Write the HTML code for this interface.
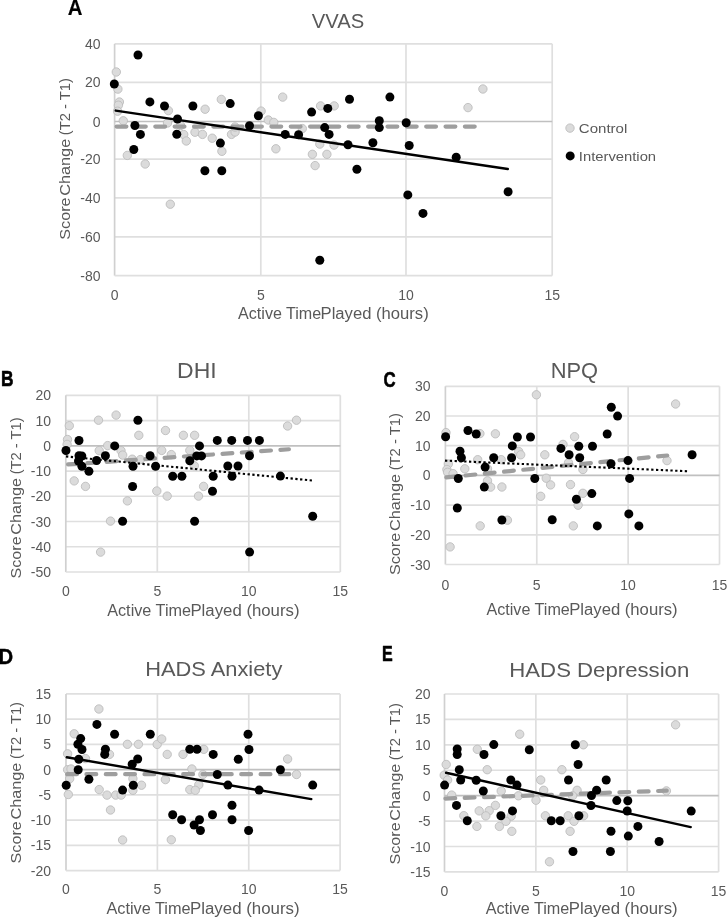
<!DOCTYPE html>
<html><head><meta charset="utf-8"><style>
html,body{margin:0;padding:0;background:#fff;}
svg{display:block;font-family:"Liberation Sans", sans-serif;filter:grayscale(1);}
</style></head><body>
<svg width="728" height="918" viewBox="0 0 728 918">
<rect width="728" height="918" fill="#fff"/>
<g id="pA">
<line x1="114.60" y1="43.90" x2="552.20" y2="43.90" stroke="#dfdfdf" stroke-width="1.7"/>
<line x1="114.60" y1="82.40" x2="552.20" y2="82.40" stroke="#dfdfdf" stroke-width="1.7"/>
<line x1="114.60" y1="159.20" x2="552.20" y2="159.20" stroke="#dfdfdf" stroke-width="1.7"/>
<line x1="114.60" y1="197.80" x2="552.20" y2="197.80" stroke="#dfdfdf" stroke-width="1.7"/>
<line x1="114.60" y1="236.90" x2="552.20" y2="236.90" stroke="#dfdfdf" stroke-width="1.7"/>
<line x1="260.80" y1="43.90" x2="260.80" y2="275.60" stroke="#dfdfdf" stroke-width="1.7"/>
<line x1="406.00" y1="43.90" x2="406.00" y2="275.60" stroke="#dfdfdf" stroke-width="1.7"/>
<line x1="552.20" y1="43.90" x2="552.20" y2="275.60" stroke="#dfdfdf" stroke-width="1.7"/>
<line x1="114.60" y1="43.90" x2="114.60" y2="275.60" stroke="#d0d0d0" stroke-width="1.7"/>
<line x1="114.60" y1="275.60" x2="552.20" y2="275.60" stroke="#dfdfdf" stroke-width="1.7"/>
<line x1="114.60" y1="121.50" x2="552.20" y2="121.50" stroke="#c0c0c0" stroke-width="1.7"/>
<text x="100.5" y="48.91" text-anchor="end" font-size="14" fill="#595959">40</text>
<text x="100.5" y="87.41" text-anchor="end" font-size="14" fill="#595959">20</text>
<text x="100.5" y="126.51" text-anchor="end" font-size="14" fill="#595959">0</text>
<text x="100.5" y="164.21" text-anchor="end" font-size="14" fill="#595959">-20</text>
<text x="100.5" y="202.81" text-anchor="end" font-size="14" fill="#595959">-40</text>
<text x="100.5" y="241.91" text-anchor="end" font-size="14" fill="#595959">-60</text>
<text x="100.5" y="280.61" text-anchor="end" font-size="14" fill="#595959">-80</text>
<text x="114.60" y="300.01" text-anchor="middle" font-size="14" fill="#595959">0</text>
<text x="260.80" y="300.01" text-anchor="middle" font-size="14" fill="#595959">5</text>
<text x="406.00" y="300.01" text-anchor="middle" font-size="14" fill="#595959">10</text>
<text x="552.20" y="300.01" text-anchor="middle" font-size="14" fill="#595959">15</text>
<text x="338" y="27.7" text-anchor="middle" font-size="20" fill="#595959" textLength="52.5" lengthAdjust="spacingAndGlyphs">VVAS</text>
<text x="67.77" y="15.1" font-size="21.74" font-weight="bold" fill="#000" stroke="#000" stroke-width="0.2" stroke-linejoin="round" textLength="14.71" lengthAdjust="spacingAndGlyphs">A</text>
<text x="238.10" y="319" font-size="16" fill="#595959" textLength="83.09" lengthAdjust="spacingAndGlyphs">Active Time</text>
<text x="320.60" y="319" font-size="16" fill="#595959" textLength="108.09" lengthAdjust="spacingAndGlyphs">Played (hours)</text>
<text transform="translate(69.90,239.74) rotate(-90)" x="0" y="0" font-size="15.3" fill="#595959" textLength="42.30" lengthAdjust="spacingAndGlyphs">Score</text>
<text transform="translate(69.90,195.79) rotate(-90)" x="0" y="0" font-size="15.3" fill="#595959" textLength="57.02" lengthAdjust="spacingAndGlyphs">Change</text>
<text transform="translate(69.90,135.16) rotate(-90)" x="0" y="0" font-size="15.3" fill="#595959" textLength="57.09" lengthAdjust="spacingAndGlyphs">(T2 - T1)</text>
<circle cx="116.3" cy="72.0" r="4.2" fill="#dbdbdb" stroke="#bababa" stroke-width="0.85"/>
<circle cx="117.9" cy="89.1" r="4.2" fill="#dbdbdb" stroke="#bababa" stroke-width="0.85"/>
<circle cx="119.4" cy="102.0" r="4.2" fill="#dbdbdb" stroke="#bababa" stroke-width="0.85"/>
<circle cx="118.4" cy="105.2" r="4.2" fill="#dbdbdb" stroke="#bababa" stroke-width="0.85"/>
<circle cx="117.6" cy="111.2" r="4.2" fill="#dbdbdb" stroke="#bababa" stroke-width="0.85"/>
<circle cx="123.3" cy="120.8" r="4.2" fill="#dbdbdb" stroke="#bababa" stroke-width="0.85"/>
<circle cx="168.4" cy="110.6" r="4.2" fill="#dbdbdb" stroke="#bababa" stroke-width="0.85"/>
<circle cx="167.5" cy="123.0" r="4.2" fill="#dbdbdb" stroke="#bababa" stroke-width="0.85"/>
<circle cx="180.5" cy="125.5" r="4.2" fill="#dbdbdb" stroke="#bababa" stroke-width="0.85"/>
<circle cx="205.1" cy="109.2" r="4.2" fill="#dbdbdb" stroke="#bababa" stroke-width="0.85"/>
<circle cx="221.3" cy="99.4" r="4.2" fill="#dbdbdb" stroke="#bababa" stroke-width="0.85"/>
<circle cx="183.7" cy="134.5" r="4.2" fill="#dbdbdb" stroke="#bababa" stroke-width="0.85"/>
<circle cx="186.3" cy="141.0" r="4.2" fill="#dbdbdb" stroke="#bababa" stroke-width="0.85"/>
<circle cx="195.0" cy="132.2" r="4.2" fill="#dbdbdb" stroke="#bababa" stroke-width="0.85"/>
<circle cx="202.5" cy="134.4" r="4.2" fill="#dbdbdb" stroke="#bababa" stroke-width="0.85"/>
<circle cx="212.2" cy="138.2" r="4.2" fill="#dbdbdb" stroke="#bababa" stroke-width="0.85"/>
<circle cx="221.9" cy="151.3" r="4.2" fill="#dbdbdb" stroke="#bababa" stroke-width="0.85"/>
<circle cx="231.5" cy="134.4" r="4.2" fill="#dbdbdb" stroke="#bababa" stroke-width="0.85"/>
<circle cx="235.1" cy="132.0" r="4.2" fill="#dbdbdb" stroke="#bababa" stroke-width="0.85"/>
<circle cx="127.3" cy="155.4" r="4.2" fill="#dbdbdb" stroke="#bababa" stroke-width="0.85"/>
<circle cx="145.2" cy="164.0" r="4.2" fill="#dbdbdb" stroke="#bababa" stroke-width="0.85"/>
<circle cx="170.3" cy="204.2" r="4.2" fill="#dbdbdb" stroke="#bababa" stroke-width="0.85"/>
<circle cx="261.1" cy="111.1" r="4.2" fill="#dbdbdb" stroke="#bababa" stroke-width="0.85"/>
<circle cx="268.3" cy="120.0" r="4.2" fill="#dbdbdb" stroke="#bababa" stroke-width="0.85"/>
<circle cx="273.8" cy="122.4" r="4.2" fill="#dbdbdb" stroke="#bababa" stroke-width="0.85"/>
<circle cx="282.7" cy="97.1" r="4.2" fill="#dbdbdb" stroke="#bababa" stroke-width="0.85"/>
<circle cx="302.3" cy="128.6" r="4.2" fill="#dbdbdb" stroke="#bababa" stroke-width="0.85"/>
<circle cx="275.9" cy="148.8" r="4.2" fill="#dbdbdb" stroke="#bababa" stroke-width="0.85"/>
<circle cx="320.6" cy="105.9" r="4.2" fill="#dbdbdb" stroke="#bababa" stroke-width="0.85"/>
<circle cx="334.2" cy="105.9" r="4.2" fill="#dbdbdb" stroke="#bababa" stroke-width="0.85"/>
<circle cx="319.8" cy="144.1" r="4.2" fill="#dbdbdb" stroke="#bababa" stroke-width="0.85"/>
<circle cx="334.0" cy="145.1" r="4.2" fill="#dbdbdb" stroke="#bababa" stroke-width="0.85"/>
<circle cx="312.4" cy="154.3" r="4.2" fill="#dbdbdb" stroke="#bababa" stroke-width="0.85"/>
<circle cx="326.9" cy="154.3" r="4.2" fill="#dbdbdb" stroke="#bababa" stroke-width="0.85"/>
<circle cx="315.1" cy="165.6" r="4.2" fill="#dbdbdb" stroke="#bababa" stroke-width="0.85"/>
<circle cx="468.0" cy="107.6" r="4.2" fill="#dbdbdb" stroke="#bababa" stroke-width="0.85"/>
<circle cx="482.9" cy="89.0" r="4.2" fill="#dbdbdb" stroke="#bababa" stroke-width="0.85"/>
<circle cx="235.0" cy="127.0" r="4.2" fill="#dbdbdb" stroke="#bababa" stroke-width="0.85"/>
<line x1="116.6" y1="126.6" x2="474.9" y2="126.6" stroke="#9e9e9e" stroke-width="4.2" stroke-linecap="round" stroke-dasharray="9.8 9.55"/>
<circle cx="138.0" cy="55.0" r="4.5" fill="#000"/>
<circle cx="114.3" cy="84.0" r="4.5" fill="#000"/>
<circle cx="149.9" cy="101.9" r="4.5" fill="#000"/>
<circle cx="164.5" cy="106.0" r="4.5" fill="#000"/>
<circle cx="192.9" cy="106.0" r="4.5" fill="#000"/>
<circle cx="230.2" cy="103.6" r="4.5" fill="#000"/>
<circle cx="177.5" cy="119.0" r="4.5" fill="#000"/>
<circle cx="134.9" cy="125.5" r="4.5" fill="#000"/>
<circle cx="140.4" cy="134.4" r="4.5" fill="#000"/>
<circle cx="176.8" cy="134.3" r="4.5" fill="#000"/>
<circle cx="133.8" cy="149.5" r="4.5" fill="#000"/>
<circle cx="220.4" cy="143.1" r="4.5" fill="#000"/>
<circle cx="249.5" cy="125.8" r="4.5" fill="#000"/>
<circle cx="258.4" cy="115.8" r="4.5" fill="#000"/>
<circle cx="285.2" cy="134.4" r="4.5" fill="#000"/>
<circle cx="298.6" cy="134.8" r="4.5" fill="#000"/>
<circle cx="311.6" cy="112.1" r="4.5" fill="#000"/>
<circle cx="327.8" cy="108.4" r="4.5" fill="#000"/>
<circle cx="324.7" cy="127.6" r="4.5" fill="#000"/>
<circle cx="329.1" cy="134.4" r="4.5" fill="#000"/>
<circle cx="349.5" cy="99.3" r="4.5" fill="#000"/>
<circle cx="348.0" cy="144.7" r="4.5" fill="#000"/>
<circle cx="372.9" cy="142.8" r="4.5" fill="#000"/>
<circle cx="379.3" cy="120.8" r="4.5" fill="#000"/>
<circle cx="379.3" cy="127.6" r="4.5" fill="#000"/>
<circle cx="389.9" cy="97.1" r="4.5" fill="#000"/>
<circle cx="406.2" cy="122.8" r="4.5" fill="#000"/>
<circle cx="409.2" cy="145.5" r="4.5" fill="#000"/>
<circle cx="456.2" cy="157.3" r="4.5" fill="#000"/>
<circle cx="407.8" cy="194.9" r="4.5" fill="#000"/>
<circle cx="423.0" cy="213.4" r="4.5" fill="#000"/>
<circle cx="508.1" cy="191.8" r="4.5" fill="#000"/>
<circle cx="204.9" cy="170.8" r="4.5" fill="#000"/>
<circle cx="221.8" cy="170.8" r="4.5" fill="#000"/>
<circle cx="356.9" cy="169.2" r="4.5" fill="#000"/>
<circle cx="319.8" cy="260.2" r="4.5" fill="#000"/>
<line x1="115.69" y1="110.58" x2="507.81" y2="169.05" stroke="#000" stroke-width="2.4" stroke-linecap="round"/>
<circle cx="570" cy="128.1" r="4.2" fill="#dbdbdb" stroke="#bababa" stroke-width="0.85"/>
<circle cx="570.2" cy="155.9" r="4.5" fill="#000"/>
<text x="578.8" y="132.8" font-size="13.7" fill="#595959" textLength="48.5" lengthAdjust="spacingAndGlyphs">Control</text>
<text x="578.8" y="160.7" font-size="13.7" fill="#595959" textLength="77.3" lengthAdjust="spacingAndGlyphs">Intervention</text>
</g>
<g id="pB">
<line x1="65.80" y1="395.30" x2="340.30" y2="395.30" stroke="#dfdfdf" stroke-width="1.7"/>
<line x1="65.80" y1="420.54" x2="340.30" y2="420.54" stroke="#dfdfdf" stroke-width="1.7"/>
<line x1="65.80" y1="471.03" x2="340.30" y2="471.03" stroke="#dfdfdf" stroke-width="1.7"/>
<line x1="65.80" y1="496.27" x2="340.30" y2="496.27" stroke="#dfdfdf" stroke-width="1.7"/>
<line x1="65.80" y1="521.51" x2="340.30" y2="521.51" stroke="#dfdfdf" stroke-width="1.7"/>
<line x1="65.80" y1="546.76" x2="340.30" y2="546.76" stroke="#dfdfdf" stroke-width="1.7"/>
<line x1="157.30" y1="395.30" x2="157.30" y2="572.00" stroke="#dfdfdf" stroke-width="1.7"/>
<line x1="248.80" y1="395.30" x2="248.80" y2="572.00" stroke="#dfdfdf" stroke-width="1.7"/>
<line x1="340.30" y1="395.30" x2="340.30" y2="572.00" stroke="#dfdfdf" stroke-width="1.7"/>
<line x1="65.80" y1="395.30" x2="65.80" y2="572.00" stroke="#d0d0d0" stroke-width="1.7"/>
<line x1="65.80" y1="572.00" x2="340.30" y2="572.00" stroke="#dfdfdf" stroke-width="1.7"/>
<line x1="65.80" y1="445.79" x2="340.30" y2="445.79" stroke="#c0c0c0" stroke-width="1.7"/>
<text x="51" y="400.31" text-anchor="end" font-size="14" fill="#595959">20</text>
<text x="51" y="425.55" text-anchor="end" font-size="14" fill="#595959">10</text>
<text x="51" y="450.80" text-anchor="end" font-size="14" fill="#595959">0</text>
<text x="51" y="476.04" text-anchor="end" font-size="14" fill="#595959">-10</text>
<text x="51" y="501.28" text-anchor="end" font-size="14" fill="#595959">-20</text>
<text x="51" y="526.53" text-anchor="end" font-size="14" fill="#595959">-30</text>
<text x="51" y="551.77" text-anchor="end" font-size="14" fill="#595959">-40</text>
<text x="51" y="577.01" text-anchor="end" font-size="14" fill="#595959">-50</text>
<text x="65.80" y="596.31" text-anchor="middle" font-size="14" fill="#595959">0</text>
<text x="157.30" y="596.31" text-anchor="middle" font-size="14" fill="#595959">5</text>
<text x="248.80" y="596.31" text-anchor="middle" font-size="14" fill="#595959">10</text>
<text x="340.30" y="596.31" text-anchor="middle" font-size="14" fill="#595959">15</text>
<text x="196.9" y="378.1" text-anchor="middle" font-size="21.8" fill="#595959" textLength="39.6" lengthAdjust="spacingAndGlyphs">DHI</text>
<text x="1.04" y="385.7" font-size="21.88" font-weight="bold" fill="#000" stroke="#000" stroke-width="0.6" stroke-linejoin="round" textLength="12.52" lengthAdjust="spacingAndGlyphs">B</text>
<text x="107.20" y="615.8" font-size="16" fill="#595959" textLength="83.84" lengthAdjust="spacingAndGlyphs">Active Time</text>
<text x="190.44" y="615.8" font-size="16" fill="#595959" textLength="109.06" lengthAdjust="spacingAndGlyphs">Played (hours)</text>
<text transform="translate(20.50,578.49) rotate(-90)" x="0" y="0" font-size="15.3" fill="#595959" textLength="42.13" lengthAdjust="spacingAndGlyphs">Score</text>
<text transform="translate(20.50,534.72) rotate(-90)" x="0" y="0" font-size="15.3" fill="#595959" textLength="56.79" lengthAdjust="spacingAndGlyphs">Change</text>
<text transform="translate(20.50,474.33) rotate(-90)" x="0" y="0" font-size="15.3" fill="#595959" textLength="56.86" lengthAdjust="spacingAndGlyphs">(T2 - T1)</text>
<circle cx="69.3" cy="425.7" r="4.2" fill="#dbdbdb" stroke="#bababa" stroke-width="0.85"/>
<circle cx="98.5" cy="420.2" r="4.2" fill="#dbdbdb" stroke="#bababa" stroke-width="0.85"/>
<circle cx="116.1" cy="415.1" r="4.2" fill="#dbdbdb" stroke="#bababa" stroke-width="0.85"/>
<circle cx="138.8" cy="435.3" r="4.2" fill="#dbdbdb" stroke="#bababa" stroke-width="0.85"/>
<circle cx="67.5" cy="439.5" r="4.2" fill="#dbdbdb" stroke="#bababa" stroke-width="0.85"/>
<circle cx="67.1" cy="444.4" r="4.2" fill="#dbdbdb" stroke="#bababa" stroke-width="0.85"/>
<circle cx="107.7" cy="445.6" r="4.2" fill="#dbdbdb" stroke="#bababa" stroke-width="0.85"/>
<circle cx="99.2" cy="450.6" r="4.2" fill="#dbdbdb" stroke="#bababa" stroke-width="0.85"/>
<circle cx="121.0" cy="450.6" r="4.2" fill="#dbdbdb" stroke="#bababa" stroke-width="0.85"/>
<circle cx="122.7" cy="455.1" r="4.2" fill="#dbdbdb" stroke="#bababa" stroke-width="0.85"/>
<circle cx="132.2" cy="459.2" r="4.2" fill="#dbdbdb" stroke="#bababa" stroke-width="0.85"/>
<circle cx="140.4" cy="459.6" r="4.2" fill="#dbdbdb" stroke="#bababa" stroke-width="0.85"/>
<circle cx="165.5" cy="430.5" r="4.2" fill="#dbdbdb" stroke="#bababa" stroke-width="0.85"/>
<circle cx="183.4" cy="435.3" r="4.2" fill="#dbdbdb" stroke="#bababa" stroke-width="0.85"/>
<circle cx="194.6" cy="435.3" r="4.2" fill="#dbdbdb" stroke="#bababa" stroke-width="0.85"/>
<circle cx="161.7" cy="450.4" r="4.2" fill="#dbdbdb" stroke="#bababa" stroke-width="0.85"/>
<circle cx="171.3" cy="454.6" r="4.2" fill="#dbdbdb" stroke="#bababa" stroke-width="0.85"/>
<circle cx="189.8" cy="450.4" r="4.2" fill="#dbdbdb" stroke="#bababa" stroke-width="0.85"/>
<circle cx="194.3" cy="465.8" r="4.2" fill="#dbdbdb" stroke="#bababa" stroke-width="0.85"/>
<circle cx="287.6" cy="426.0" r="4.2" fill="#dbdbdb" stroke="#bababa" stroke-width="0.85"/>
<circle cx="296.5" cy="420.2" r="4.2" fill="#dbdbdb" stroke="#bababa" stroke-width="0.85"/>
<circle cx="74.2" cy="480.9" r="4.2" fill="#dbdbdb" stroke="#bababa" stroke-width="0.85"/>
<circle cx="85.5" cy="486.4" r="4.2" fill="#dbdbdb" stroke="#bababa" stroke-width="0.85"/>
<circle cx="156.8" cy="491.0" r="4.2" fill="#dbdbdb" stroke="#bababa" stroke-width="0.85"/>
<circle cx="127.4" cy="500.9" r="4.2" fill="#dbdbdb" stroke="#bababa" stroke-width="0.85"/>
<circle cx="110.5" cy="521.1" r="4.2" fill="#dbdbdb" stroke="#bababa" stroke-width="0.85"/>
<circle cx="167.2" cy="496.1" r="4.2" fill="#dbdbdb" stroke="#bababa" stroke-width="0.85"/>
<circle cx="198.5" cy="496.1" r="4.2" fill="#dbdbdb" stroke="#bababa" stroke-width="0.85"/>
<circle cx="203.6" cy="486.4" r="4.2" fill="#dbdbdb" stroke="#bababa" stroke-width="0.85"/>
<circle cx="100.6" cy="552.1" r="4.2" fill="#dbdbdb" stroke="#bababa" stroke-width="0.85"/>
<line x1="68.1" y1="464.46" x2="288.9" y2="449.24" stroke="#9e9e9e" stroke-width="4.2" stroke-linecap="round" stroke-dasharray="9.8 9.55"/>
<circle cx="137.9" cy="420.2" r="4.5" fill="#000"/>
<circle cx="79.0" cy="440.5" r="4.5" fill="#000"/>
<circle cx="66.0" cy="450.5" r="4.5" fill="#000"/>
<circle cx="114.7" cy="445.9" r="4.5" fill="#000"/>
<circle cx="79.0" cy="455.8" r="4.5" fill="#000"/>
<circle cx="81.8" cy="456.0" r="4.5" fill="#000"/>
<circle cx="78.5" cy="461.0" r="4.5" fill="#000"/>
<circle cx="81.9" cy="466.2" r="4.5" fill="#000"/>
<circle cx="88.9" cy="471.2" r="4.5" fill="#000"/>
<circle cx="96.6" cy="460.5" r="4.5" fill="#000"/>
<circle cx="105.4" cy="455.7" r="4.5" fill="#000"/>
<circle cx="150.1" cy="455.7" r="4.5" fill="#000"/>
<circle cx="133.0" cy="466.2" r="4.5" fill="#000"/>
<circle cx="155.6" cy="466.2" r="4.5" fill="#000"/>
<circle cx="217.3" cy="440.4" r="4.5" fill="#000"/>
<circle cx="231.7" cy="440.4" r="4.5" fill="#000"/>
<circle cx="247.5" cy="440.4" r="4.5" fill="#000"/>
<circle cx="259.4" cy="440.4" r="4.5" fill="#000"/>
<circle cx="199.5" cy="445.9" r="4.5" fill="#000"/>
<circle cx="196.7" cy="455.9" r="4.5" fill="#000"/>
<circle cx="201.5" cy="455.9" r="4.5" fill="#000"/>
<circle cx="189.8" cy="460.8" r="4.5" fill="#000"/>
<circle cx="227.8" cy="466.0" r="4.5" fill="#000"/>
<circle cx="238.0" cy="466.0" r="4.5" fill="#000"/>
<circle cx="249.5" cy="455.7" r="4.5" fill="#000"/>
<circle cx="172.7" cy="476.2" r="4.5" fill="#000"/>
<circle cx="181.9" cy="476.2" r="4.5" fill="#000"/>
<circle cx="213.2" cy="476.2" r="4.5" fill="#000"/>
<circle cx="232.0" cy="476.2" r="4.5" fill="#000"/>
<circle cx="212.5" cy="491.3" r="4.5" fill="#000"/>
<circle cx="132.6" cy="486.5" r="4.5" fill="#000"/>
<circle cx="122.6" cy="521.3" r="4.5" fill="#000"/>
<circle cx="194.6" cy="521.3" r="4.5" fill="#000"/>
<circle cx="280.4" cy="476.1" r="4.5" fill="#000"/>
<circle cx="312.7" cy="516.3" r="4.5" fill="#000"/>
<circle cx="249.6" cy="552.1" r="4.5" fill="#000"/>
<line x1="66" y1="456.4" x2="313" y2="480.6" stroke="#000" stroke-width="2.1" stroke-dasharray="2.3 2.5"/>
</g>
<g id="pC">
<line x1="445.40" y1="386.30" x2="719.50" y2="386.30" stroke="#dfdfdf" stroke-width="1.7"/>
<line x1="445.40" y1="416.00" x2="719.50" y2="416.00" stroke="#dfdfdf" stroke-width="1.7"/>
<line x1="445.40" y1="445.70" x2="719.50" y2="445.70" stroke="#dfdfdf" stroke-width="1.7"/>
<line x1="445.40" y1="505.10" x2="719.50" y2="505.10" stroke="#dfdfdf" stroke-width="1.7"/>
<line x1="445.40" y1="534.80" x2="719.50" y2="534.80" stroke="#dfdfdf" stroke-width="1.7"/>
<line x1="536.77" y1="386.30" x2="536.77" y2="564.50" stroke="#dfdfdf" stroke-width="1.7"/>
<line x1="628.13" y1="386.30" x2="628.13" y2="564.50" stroke="#dfdfdf" stroke-width="1.7"/>
<line x1="719.50" y1="386.30" x2="719.50" y2="564.50" stroke="#dfdfdf" stroke-width="1.7"/>
<line x1="445.40" y1="386.30" x2="445.40" y2="564.50" stroke="#d0d0d0" stroke-width="1.7"/>
<line x1="445.40" y1="564.50" x2="719.50" y2="564.50" stroke="#dfdfdf" stroke-width="1.7"/>
<line x1="445.40" y1="475.40" x2="719.50" y2="475.40" stroke="#c0c0c0" stroke-width="1.7"/>
<text x="430.5" y="391.31" text-anchor="end" font-size="14" fill="#595959">30</text>
<text x="430.5" y="421.01" text-anchor="end" font-size="14" fill="#595959">20</text>
<text x="430.5" y="450.71" text-anchor="end" font-size="14" fill="#595959">10</text>
<text x="430.5" y="480.41" text-anchor="end" font-size="14" fill="#595959">0</text>
<text x="430.5" y="510.11" text-anchor="end" font-size="14" fill="#595959">-10</text>
<text x="430.5" y="539.81" text-anchor="end" font-size="14" fill="#595959">-20</text>
<text x="430.5" y="569.51" text-anchor="end" font-size="14" fill="#595959">-30</text>
<text x="445.40" y="590.01" text-anchor="middle" font-size="14" fill="#595959">0</text>
<text x="536.77" y="590.01" text-anchor="middle" font-size="14" fill="#595959">5</text>
<text x="628.13" y="590.01" text-anchor="middle" font-size="14" fill="#595959">10</text>
<text x="719.50" y="590.01" text-anchor="middle" font-size="14" fill="#595959">15</text>
<text x="574.4" y="378.2" text-anchor="middle" font-size="21.8" fill="#595959" textLength="47.4" lengthAdjust="spacingAndGlyphs">NPQ</text>
<text x="383.6" y="386.88" font-size="21.97" font-weight="bold" fill="#000" stroke="#000" stroke-width="0.6" stroke-linejoin="round" textLength="12.16" lengthAdjust="spacingAndGlyphs">C</text>
<text x="486.50" y="614.5" font-size="16" fill="#595959" textLength="83.31" lengthAdjust="spacingAndGlyphs">Active Time</text>
<text x="569.22" y="614.5" font-size="16" fill="#595959" textLength="108.37" lengthAdjust="spacingAndGlyphs">Played (hours)</text>
<text transform="translate(400.00,575.10) rotate(-90)" x="0" y="0" font-size="15.3" fill="#595959" textLength="42.37" lengthAdjust="spacingAndGlyphs">Score</text>
<text transform="translate(400.00,531.08) rotate(-90)" x="0" y="0" font-size="15.3" fill="#595959" textLength="57.11" lengthAdjust="spacingAndGlyphs">Change</text>
<text transform="translate(400.00,470.35) rotate(-90)" x="0" y="0" font-size="15.3" fill="#595959" textLength="57.18" lengthAdjust="spacingAndGlyphs">(T2 - T1)</text>
<circle cx="536.4" cy="394.8" r="4.2" fill="#dbdbdb" stroke="#bababa" stroke-width="0.85"/>
<circle cx="446.0" cy="432.6" r="4.2" fill="#dbdbdb" stroke="#bababa" stroke-width="0.85"/>
<circle cx="479.9" cy="433.6" r="4.2" fill="#dbdbdb" stroke="#bababa" stroke-width="0.85"/>
<circle cx="495.4" cy="433.8" r="4.2" fill="#dbdbdb" stroke="#bababa" stroke-width="0.85"/>
<circle cx="518.7" cy="451.5" r="4.2" fill="#dbdbdb" stroke="#bababa" stroke-width="0.85"/>
<circle cx="520.7" cy="454.8" r="4.2" fill="#dbdbdb" stroke="#bababa" stroke-width="0.85"/>
<circle cx="477.7" cy="459.7" r="4.2" fill="#dbdbdb" stroke="#bababa" stroke-width="0.85"/>
<circle cx="501.2" cy="459.7" r="4.2" fill="#dbdbdb" stroke="#bababa" stroke-width="0.85"/>
<circle cx="448.3" cy="464.0" r="4.2" fill="#dbdbdb" stroke="#bababa" stroke-width="0.85"/>
<circle cx="446.9" cy="469.5" r="4.2" fill="#dbdbdb" stroke="#bababa" stroke-width="0.85"/>
<circle cx="447.6" cy="472.3" r="4.2" fill="#dbdbdb" stroke="#bababa" stroke-width="0.85"/>
<circle cx="453.1" cy="473.7" r="4.2" fill="#dbdbdb" stroke="#bababa" stroke-width="0.85"/>
<circle cx="464.8" cy="468.8" r="4.2" fill="#dbdbdb" stroke="#bababa" stroke-width="0.85"/>
<circle cx="487.5" cy="468.8" r="4.2" fill="#dbdbdb" stroke="#bababa" stroke-width="0.85"/>
<circle cx="487.5" cy="480.8" r="4.2" fill="#dbdbdb" stroke="#bababa" stroke-width="0.85"/>
<circle cx="490.6" cy="487.1" r="4.2" fill="#dbdbdb" stroke="#bababa" stroke-width="0.85"/>
<circle cx="501.9" cy="487.0" r="4.2" fill="#dbdbdb" stroke="#bababa" stroke-width="0.85"/>
<circle cx="507.4" cy="520.2" r="4.2" fill="#dbdbdb" stroke="#bababa" stroke-width="0.85"/>
<circle cx="480.2" cy="525.9" r="4.2" fill="#dbdbdb" stroke="#bababa" stroke-width="0.85"/>
<circle cx="450.1" cy="546.9" r="4.2" fill="#dbdbdb" stroke="#bababa" stroke-width="0.85"/>
<circle cx="574.6" cy="436.7" r="4.2" fill="#dbdbdb" stroke="#bababa" stroke-width="0.85"/>
<circle cx="563.0" cy="444.4" r="4.2" fill="#dbdbdb" stroke="#bababa" stroke-width="0.85"/>
<circle cx="544.8" cy="454.8" r="4.2" fill="#dbdbdb" stroke="#bababa" stroke-width="0.85"/>
<circle cx="568.5" cy="462.8" r="4.2" fill="#dbdbdb" stroke="#bababa" stroke-width="0.85"/>
<circle cx="582.9" cy="469.5" r="4.2" fill="#dbdbdb" stroke="#bababa" stroke-width="0.85"/>
<circle cx="546.2" cy="478.2" r="4.2" fill="#dbdbdb" stroke="#bababa" stroke-width="0.85"/>
<circle cx="550.6" cy="484.9" r="4.2" fill="#dbdbdb" stroke="#bababa" stroke-width="0.85"/>
<circle cx="570.5" cy="484.6" r="4.2" fill="#dbdbdb" stroke="#bababa" stroke-width="0.85"/>
<circle cx="540.7" cy="496.3" r="4.2" fill="#dbdbdb" stroke="#bababa" stroke-width="0.85"/>
<circle cx="582.9" cy="493.3" r="4.2" fill="#dbdbdb" stroke="#bababa" stroke-width="0.85"/>
<circle cx="578.1" cy="505.2" r="4.2" fill="#dbdbdb" stroke="#bababa" stroke-width="0.85"/>
<circle cx="573.3" cy="525.9" r="4.2" fill="#dbdbdb" stroke="#bababa" stroke-width="0.85"/>
<circle cx="675.6" cy="404.0" r="4.2" fill="#dbdbdb" stroke="#bababa" stroke-width="0.85"/>
<circle cx="667.0" cy="460.6" r="4.2" fill="#dbdbdb" stroke="#bababa" stroke-width="0.85"/>
<line x1="446.29" y1="477.39" x2="667.21" y2="455.51" stroke="#9e9e9e" stroke-width="4.2" stroke-linecap="round" stroke-dasharray="9.8 9.55"/>
<circle cx="445.6" cy="436.7" r="4.5" fill="#000"/>
<circle cx="468.0" cy="430.5" r="4.5" fill="#000"/>
<circle cx="476.2" cy="434.0" r="4.5" fill="#000"/>
<circle cx="517.4" cy="437.0" r="4.5" fill="#000"/>
<circle cx="530.5" cy="437.0" r="4.5" fill="#000"/>
<circle cx="512.3" cy="445.9" r="4.5" fill="#000"/>
<circle cx="460.0" cy="451.3" r="4.5" fill="#000"/>
<circle cx="461.4" cy="457.7" r="4.5" fill="#000"/>
<circle cx="493.7" cy="457.7" r="4.5" fill="#000"/>
<circle cx="511.6" cy="457.7" r="4.5" fill="#000"/>
<circle cx="485.1" cy="467.1" r="4.5" fill="#000"/>
<circle cx="458.3" cy="478.5" r="4.5" fill="#000"/>
<circle cx="484.3" cy="487.1" r="4.5" fill="#000"/>
<circle cx="534.8" cy="478.5" r="4.5" fill="#000"/>
<circle cx="457.3" cy="508.0" r="4.5" fill="#000"/>
<circle cx="501.9" cy="520.0" r="4.5" fill="#000"/>
<circle cx="611.3" cy="407.2" r="4.5" fill="#000"/>
<circle cx="617.6" cy="416.1" r="4.5" fill="#000"/>
<circle cx="607.2" cy="434.0" r="4.5" fill="#000"/>
<circle cx="560.9" cy="448.4" r="4.5" fill="#000"/>
<circle cx="578.8" cy="446.2" r="4.5" fill="#000"/>
<circle cx="592.5" cy="446.2" r="4.5" fill="#000"/>
<circle cx="569.1" cy="454.8" r="4.5" fill="#000"/>
<circle cx="579.7" cy="457.8" r="4.5" fill="#000"/>
<circle cx="611.0" cy="463.8" r="4.5" fill="#000"/>
<circle cx="628.0" cy="460.6" r="4.5" fill="#000"/>
<circle cx="629.6" cy="478.4" r="4.5" fill="#000"/>
<circle cx="591.8" cy="493.6" r="4.5" fill="#000"/>
<circle cx="576.4" cy="499.3" r="4.5" fill="#000"/>
<circle cx="628.8" cy="513.9" r="4.5" fill="#000"/>
<circle cx="552.2" cy="519.8" r="4.5" fill="#000"/>
<circle cx="597.3" cy="525.9" r="4.5" fill="#000"/>
<circle cx="638.9" cy="525.9" r="4.5" fill="#000"/>
<circle cx="692.1" cy="454.7" r="4.5" fill="#000"/>
<line x1="445" y1="460.6" x2="689.4" y2="471.3" stroke="#000" stroke-width="2.1" stroke-dasharray="2.3 2.5"/>
</g>
<g id="pD">
<line x1="66.00" y1="693.90" x2="340.10" y2="693.90" stroke="#dfdfdf" stroke-width="1.7"/>
<line x1="66.00" y1="719.14" x2="340.10" y2="719.14" stroke="#dfdfdf" stroke-width="1.7"/>
<line x1="66.00" y1="744.39" x2="340.10" y2="744.39" stroke="#dfdfdf" stroke-width="1.7"/>
<line x1="66.00" y1="794.87" x2="340.10" y2="794.87" stroke="#dfdfdf" stroke-width="1.7"/>
<line x1="66.00" y1="820.11" x2="340.10" y2="820.11" stroke="#dfdfdf" stroke-width="1.7"/>
<line x1="66.00" y1="845.36" x2="340.10" y2="845.36" stroke="#dfdfdf" stroke-width="1.7"/>
<line x1="157.37" y1="693.90" x2="157.37" y2="870.60" stroke="#dfdfdf" stroke-width="1.7"/>
<line x1="248.73" y1="693.90" x2="248.73" y2="870.60" stroke="#dfdfdf" stroke-width="1.7"/>
<line x1="340.10" y1="693.90" x2="340.10" y2="870.60" stroke="#dfdfdf" stroke-width="1.7"/>
<line x1="66.00" y1="693.90" x2="66.00" y2="870.60" stroke="#d0d0d0" stroke-width="1.7"/>
<line x1="66.00" y1="870.60" x2="340.10" y2="870.60" stroke="#dfdfdf" stroke-width="1.7"/>
<line x1="66.00" y1="769.63" x2="340.10" y2="769.63" stroke="#c0c0c0" stroke-width="1.7"/>
<text x="51" y="698.91" text-anchor="end" font-size="14" fill="#595959">15</text>
<text x="51" y="724.15" text-anchor="end" font-size="14" fill="#595959">10</text>
<text x="51" y="749.40" text-anchor="end" font-size="14" fill="#595959">5</text>
<text x="51" y="774.64" text-anchor="end" font-size="14" fill="#595959">0</text>
<text x="51" y="799.88" text-anchor="end" font-size="14" fill="#595959">-5</text>
<text x="51" y="825.13" text-anchor="end" font-size="14" fill="#595959">-10</text>
<text x="51" y="850.37" text-anchor="end" font-size="14" fill="#595959">-15</text>
<text x="51" y="875.61" text-anchor="end" font-size="14" fill="#595959">-20</text>
<text x="66.00" y="894.31" text-anchor="middle" font-size="14" fill="#595959">0</text>
<text x="157.37" y="894.31" text-anchor="middle" font-size="14" fill="#595959">5</text>
<text x="248.73" y="894.31" text-anchor="middle" font-size="14" fill="#595959">10</text>
<text x="340.10" y="894.31" text-anchor="middle" font-size="14" fill="#595959">15</text>
<text x="213.75" y="676.4" text-anchor="middle" font-size="20.8" fill="#595959" textLength="137.2" lengthAdjust="spacingAndGlyphs">HADS Anxiety</text>
<text x="-1.47" y="663.8" font-size="21.3" font-weight="bold" fill="#000" stroke="#000" stroke-width="0.35" stroke-linejoin="round" textLength="14.65" lengthAdjust="spacingAndGlyphs">D</text>
<text x="106.40" y="913.8" font-size="16" fill="#595959" textLength="84.23" lengthAdjust="spacingAndGlyphs">Active Time</text>
<text x="190.03" y="913.8" font-size="16" fill="#595959" textLength="109.57" lengthAdjust="spacingAndGlyphs">Played (hours)</text>
<text transform="translate(20.70,863.49) rotate(-90)" x="0" y="0" font-size="15.3" fill="#595959" textLength="42.26" lengthAdjust="spacingAndGlyphs">Score</text>
<text transform="translate(20.70,819.58) rotate(-90)" x="0" y="0" font-size="15.3" fill="#595959" textLength="56.97" lengthAdjust="spacingAndGlyphs">Change</text>
<text transform="translate(20.70,759.01) rotate(-90)" x="0" y="0" font-size="15.3" fill="#595959" textLength="57.04" lengthAdjust="spacingAndGlyphs">(T2 - T1)</text>
<circle cx="98.9" cy="709.0" r="4.2" fill="#dbdbdb" stroke="#bababa" stroke-width="0.85"/>
<circle cx="74.2" cy="733.8" r="4.2" fill="#dbdbdb" stroke="#bababa" stroke-width="0.85"/>
<circle cx="127.4" cy="744.3" r="4.2" fill="#dbdbdb" stroke="#bababa" stroke-width="0.85"/>
<circle cx="138.4" cy="744.3" r="4.2" fill="#dbdbdb" stroke="#bababa" stroke-width="0.85"/>
<circle cx="157.2" cy="744.4" r="4.2" fill="#dbdbdb" stroke="#bababa" stroke-width="0.85"/>
<circle cx="109.5" cy="754.4" r="4.2" fill="#dbdbdb" stroke="#bababa" stroke-width="0.85"/>
<circle cx="67.6" cy="753.8" r="4.2" fill="#dbdbdb" stroke="#bababa" stroke-width="0.85"/>
<circle cx="85.5" cy="758.6" r="4.2" fill="#dbdbdb" stroke="#bababa" stroke-width="0.85"/>
<circle cx="67.6" cy="769.7" r="4.2" fill="#dbdbdb" stroke="#bababa" stroke-width="0.85"/>
<circle cx="71.0" cy="769.0" r="4.2" fill="#dbdbdb" stroke="#bababa" stroke-width="0.85"/>
<circle cx="69.7" cy="778.7" r="4.2" fill="#dbdbdb" stroke="#bababa" stroke-width="0.85"/>
<circle cx="68.3" cy="794.5" r="4.2" fill="#dbdbdb" stroke="#bababa" stroke-width="0.85"/>
<circle cx="99.2" cy="789.6" r="4.2" fill="#dbdbdb" stroke="#bababa" stroke-width="0.85"/>
<circle cx="107.0" cy="795.1" r="4.2" fill="#dbdbdb" stroke="#bababa" stroke-width="0.85"/>
<circle cx="115.7" cy="795.1" r="4.2" fill="#dbdbdb" stroke="#bababa" stroke-width="0.85"/>
<circle cx="121.2" cy="795.1" r="4.2" fill="#dbdbdb" stroke="#bababa" stroke-width="0.85"/>
<circle cx="132.9" cy="778.7" r="4.2" fill="#dbdbdb" stroke="#bababa" stroke-width="0.85"/>
<circle cx="132.9" cy="790.3" r="4.2" fill="#dbdbdb" stroke="#bababa" stroke-width="0.85"/>
<circle cx="141.5" cy="785.2" r="4.2" fill="#dbdbdb" stroke="#bababa" stroke-width="0.85"/>
<circle cx="110.5" cy="810.0" r="4.2" fill="#dbdbdb" stroke="#bababa" stroke-width="0.85"/>
<circle cx="122.6" cy="840.0" r="4.2" fill="#dbdbdb" stroke="#bababa" stroke-width="0.85"/>
<circle cx="161.7" cy="739.0" r="4.2" fill="#dbdbdb" stroke="#bababa" stroke-width="0.85"/>
<circle cx="167.2" cy="754.4" r="4.2" fill="#dbdbdb" stroke="#bababa" stroke-width="0.85"/>
<circle cx="183.0" cy="754.4" r="4.2" fill="#dbdbdb" stroke="#bababa" stroke-width="0.85"/>
<circle cx="203.8" cy="749.3" r="4.2" fill="#dbdbdb" stroke="#bababa" stroke-width="0.85"/>
<circle cx="191.9" cy="769.0" r="4.2" fill="#dbdbdb" stroke="#bababa" stroke-width="0.85"/>
<circle cx="202.9" cy="774.5" r="4.2" fill="#dbdbdb" stroke="#bababa" stroke-width="0.85"/>
<circle cx="165.4" cy="779.6" r="4.2" fill="#dbdbdb" stroke="#bababa" stroke-width="0.85"/>
<circle cx="198.8" cy="784.8" r="4.2" fill="#dbdbdb" stroke="#bababa" stroke-width="0.85"/>
<circle cx="189.8" cy="789.6" r="4.2" fill="#dbdbdb" stroke="#bababa" stroke-width="0.85"/>
<circle cx="195.3" cy="790.3" r="4.2" fill="#dbdbdb" stroke="#bababa" stroke-width="0.85"/>
<circle cx="171.3" cy="839.8" r="4.2" fill="#dbdbdb" stroke="#bababa" stroke-width="0.85"/>
<circle cx="287.6" cy="759.0" r="4.2" fill="#dbdbdb" stroke="#bababa" stroke-width="0.85"/>
<circle cx="296.5" cy="774.5" r="4.2" fill="#dbdbdb" stroke="#bababa" stroke-width="0.85"/>
<line x1="67.1" y1="774.2" x2="289.3" y2="774.2" stroke="#9e9e9e" stroke-width="4.2" stroke-linecap="round" stroke-dasharray="9.8 9.55"/>
<circle cx="96.9" cy="724.4" r="4.5" fill="#000"/>
<circle cx="114.6" cy="734.2" r="4.5" fill="#000"/>
<circle cx="150.3" cy="734.2" r="4.5" fill="#000"/>
<circle cx="80.7" cy="738.6" r="4.5" fill="#000"/>
<circle cx="77.9" cy="744.3" r="4.5" fill="#000"/>
<circle cx="82.0" cy="749.5" r="4.5" fill="#000"/>
<circle cx="105.4" cy="749.2" r="4.5" fill="#000"/>
<circle cx="104.7" cy="754.4" r="4.5" fill="#000"/>
<circle cx="78.8" cy="759.3" r="4.5" fill="#000"/>
<circle cx="137.7" cy="759.0" r="4.5" fill="#000"/>
<circle cx="132.2" cy="764.2" r="4.5" fill="#000"/>
<circle cx="78.2" cy="769.7" r="4.5" fill="#000"/>
<circle cx="88.9" cy="779.3" r="4.5" fill="#000"/>
<circle cx="66.2" cy="785.2" r="4.5" fill="#000"/>
<circle cx="122.6" cy="790.1" r="4.5" fill="#000"/>
<circle cx="133.3" cy="785.2" r="4.5" fill="#000"/>
<circle cx="189.8" cy="749.3" r="4.5" fill="#000"/>
<circle cx="197.0" cy="749.3" r="4.5" fill="#000"/>
<circle cx="213.2" cy="754.4" r="4.5" fill="#000"/>
<circle cx="238.3" cy="759.2" r="4.5" fill="#000"/>
<circle cx="248.0" cy="734.2" r="4.5" fill="#000"/>
<circle cx="249.0" cy="749.5" r="4.5" fill="#000"/>
<circle cx="217.3" cy="774.5" r="4.5" fill="#000"/>
<circle cx="227.9" cy="785.1" r="4.5" fill="#000"/>
<circle cx="232.0" cy="805.2" r="4.5" fill="#000"/>
<circle cx="172.7" cy="814.8" r="4.5" fill="#000"/>
<circle cx="181.6" cy="819.8" r="4.5" fill="#000"/>
<circle cx="199.5" cy="819.8" r="4.5" fill="#000"/>
<circle cx="212.5" cy="814.8" r="4.5" fill="#000"/>
<circle cx="232.0" cy="819.8" r="4.5" fill="#000"/>
<circle cx="194.1" cy="825.0" r="4.5" fill="#000"/>
<circle cx="200.4" cy="830.5" r="4.5" fill="#000"/>
<circle cx="248.6" cy="830.5" r="4.5" fill="#000"/>
<circle cx="280.4" cy="769.7" r="4.5" fill="#000"/>
<circle cx="259.1" cy="790.1" r="4.5" fill="#000"/>
<circle cx="312.7" cy="785.1" r="4.5" fill="#000"/>
<line x1="66.78" y1="757.3" x2="311.31" y2="799.13" stroke="#000" stroke-width="2.4" stroke-linecap="round"/>
</g>
<g id="pE">
<line x1="444.50" y1="694.00" x2="718.60" y2="694.00" stroke="#dfdfdf" stroke-width="1.7"/>
<line x1="444.50" y1="719.41" x2="718.60" y2="719.41" stroke="#dfdfdf" stroke-width="1.7"/>
<line x1="444.50" y1="744.83" x2="718.60" y2="744.83" stroke="#dfdfdf" stroke-width="1.7"/>
<line x1="444.50" y1="770.24" x2="718.60" y2="770.24" stroke="#dfdfdf" stroke-width="1.7"/>
<line x1="444.50" y1="821.07" x2="718.60" y2="821.07" stroke="#dfdfdf" stroke-width="1.7"/>
<line x1="444.50" y1="846.49" x2="718.60" y2="846.49" stroke="#dfdfdf" stroke-width="1.7"/>
<line x1="535.87" y1="694.00" x2="535.87" y2="871.90" stroke="#dfdfdf" stroke-width="1.7"/>
<line x1="627.23" y1="694.00" x2="627.23" y2="871.90" stroke="#dfdfdf" stroke-width="1.7"/>
<line x1="718.60" y1="694.00" x2="718.60" y2="871.90" stroke="#dfdfdf" stroke-width="1.7"/>
<line x1="444.50" y1="694.00" x2="444.50" y2="871.90" stroke="#d0d0d0" stroke-width="1.7"/>
<line x1="444.50" y1="871.90" x2="718.60" y2="871.90" stroke="#dfdfdf" stroke-width="1.7"/>
<line x1="444.50" y1="795.66" x2="718.60" y2="795.66" stroke="#c0c0c0" stroke-width="1.7"/>
<text x="430.6" y="699.01" text-anchor="end" font-size="14" fill="#595959">20</text>
<text x="430.6" y="724.43" text-anchor="end" font-size="14" fill="#595959">15</text>
<text x="430.6" y="749.84" text-anchor="end" font-size="14" fill="#595959">10</text>
<text x="430.6" y="775.25" text-anchor="end" font-size="14" fill="#595959">5</text>
<text x="430.6" y="800.67" text-anchor="end" font-size="14" fill="#595959">0</text>
<text x="430.6" y="826.08" text-anchor="end" font-size="14" fill="#595959">-5</text>
<text x="430.6" y="851.50" text-anchor="end" font-size="14" fill="#595959">-10</text>
<text x="430.6" y="876.91" text-anchor="end" font-size="14" fill="#595959">-15</text>
<text x="444.50" y="896.31" text-anchor="middle" font-size="14" fill="#595959">0</text>
<text x="535.87" y="896.31" text-anchor="middle" font-size="14" fill="#595959">5</text>
<text x="627.23" y="896.31" text-anchor="middle" font-size="14" fill="#595959">10</text>
<text x="718.60" y="896.31" text-anchor="middle" font-size="14" fill="#595959">15</text>
<text x="599.3" y="677.4" text-anchor="middle" font-size="20.8" fill="#595959" textLength="180" lengthAdjust="spacingAndGlyphs">HADS Depression</text>
<text x="381.92" y="660.6" font-size="21.74" font-weight="bold" fill="#000" stroke="#000" stroke-width="0.6" stroke-linejoin="round" textLength="10.7" lengthAdjust="spacingAndGlyphs">E</text>
<text x="485.70" y="914.1" font-size="16" fill="#595959" textLength="83.66" lengthAdjust="spacingAndGlyphs">Active Time</text>
<text x="568.77" y="914.1" font-size="16" fill="#595959" textLength="108.83" lengthAdjust="spacingAndGlyphs">Played (hours)</text>
<text transform="translate(400.00,864.54) rotate(-90)" x="0" y="0" font-size="15.3" fill="#595959" textLength="42.22" lengthAdjust="spacingAndGlyphs">Score</text>
<text transform="translate(400.00,820.67) rotate(-90)" x="0" y="0" font-size="15.3" fill="#595959" textLength="56.91" lengthAdjust="spacingAndGlyphs">Change</text>
<text transform="translate(400.00,760.16) rotate(-90)" x="0" y="0" font-size="15.3" fill="#595959" textLength="56.98" lengthAdjust="spacingAndGlyphs">(T2 - T1)</text>
<circle cx="519.7" cy="734.2" r="4.2" fill="#dbdbdb" stroke="#bababa" stroke-width="0.85"/>
<circle cx="477.3" cy="749.3" r="4.2" fill="#dbdbdb" stroke="#bababa" stroke-width="0.85"/>
<circle cx="446.2" cy="764.5" r="4.2" fill="#dbdbdb" stroke="#bababa" stroke-width="0.85"/>
<circle cx="487.2" cy="769.7" r="4.2" fill="#dbdbdb" stroke="#bababa" stroke-width="0.85"/>
<circle cx="444.2" cy="775.2" r="4.2" fill="#dbdbdb" stroke="#bababa" stroke-width="0.85"/>
<circle cx="447.6" cy="780.0" r="4.2" fill="#dbdbdb" stroke="#bababa" stroke-width="0.85"/>
<circle cx="501.2" cy="791.0" r="4.2" fill="#dbdbdb" stroke="#bababa" stroke-width="0.85"/>
<circle cx="451.7" cy="795.1" r="4.2" fill="#dbdbdb" stroke="#bababa" stroke-width="0.85"/>
<circle cx="518.4" cy="795.8" r="4.2" fill="#dbdbdb" stroke="#bababa" stroke-width="0.85"/>
<circle cx="536.0" cy="800.2" r="4.2" fill="#dbdbdb" stroke="#bababa" stroke-width="0.85"/>
<circle cx="495.4" cy="805.4" r="4.2" fill="#dbdbdb" stroke="#bababa" stroke-width="0.85"/>
<circle cx="479.2" cy="810.9" r="4.2" fill="#dbdbdb" stroke="#bababa" stroke-width="0.85"/>
<circle cx="489.2" cy="810.7" r="4.2" fill="#dbdbdb" stroke="#bababa" stroke-width="0.85"/>
<circle cx="485.8" cy="815.9" r="4.2" fill="#dbdbdb" stroke="#bababa" stroke-width="0.85"/>
<circle cx="463.8" cy="815.7" r="4.2" fill="#dbdbdb" stroke="#bababa" stroke-width="0.85"/>
<circle cx="511.2" cy="816.2" r="4.2" fill="#dbdbdb" stroke="#bababa" stroke-width="0.85"/>
<circle cx="506.0" cy="821.3" r="4.2" fill="#dbdbdb" stroke="#bababa" stroke-width="0.85"/>
<circle cx="476.9" cy="826.4" r="4.2" fill="#dbdbdb" stroke="#bababa" stroke-width="0.85"/>
<circle cx="499.4" cy="826.4" r="4.2" fill="#dbdbdb" stroke="#bababa" stroke-width="0.85"/>
<circle cx="511.8" cy="831.3" r="4.2" fill="#dbdbdb" stroke="#bababa" stroke-width="0.85"/>
<circle cx="583.3" cy="744.8" r="4.2" fill="#dbdbdb" stroke="#bababa" stroke-width="0.85"/>
<circle cx="561.9" cy="769.7" r="4.2" fill="#dbdbdb" stroke="#bababa" stroke-width="0.85"/>
<circle cx="540.7" cy="780.0" r="4.2" fill="#dbdbdb" stroke="#bababa" stroke-width="0.85"/>
<circle cx="543.7" cy="790.3" r="4.2" fill="#dbdbdb" stroke="#bababa" stroke-width="0.85"/>
<circle cx="577.1" cy="790.3" r="4.2" fill="#dbdbdb" stroke="#bababa" stroke-width="0.85"/>
<circle cx="572.6" cy="795.8" r="4.2" fill="#dbdbdb" stroke="#bababa" stroke-width="0.85"/>
<circle cx="545.4" cy="815.8" r="4.2" fill="#dbdbdb" stroke="#bababa" stroke-width="0.85"/>
<circle cx="568.2" cy="815.8" r="4.2" fill="#dbdbdb" stroke="#bababa" stroke-width="0.85"/>
<circle cx="583.6" cy="815.8" r="4.2" fill="#dbdbdb" stroke="#bababa" stroke-width="0.85"/>
<circle cx="574.0" cy="821.3" r="4.2" fill="#dbdbdb" stroke="#bababa" stroke-width="0.85"/>
<circle cx="570.1" cy="831.3" r="4.2" fill="#dbdbdb" stroke="#bababa" stroke-width="0.85"/>
<circle cx="549.5" cy="861.8" r="4.2" fill="#dbdbdb" stroke="#bababa" stroke-width="0.85"/>
<circle cx="675.6" cy="724.8" r="4.2" fill="#dbdbdb" stroke="#bababa" stroke-width="0.85"/>
<circle cx="666.4" cy="790.9" r="4.2" fill="#dbdbdb" stroke="#bababa" stroke-width="0.85"/>
<line x1="445.4" y1="798.53" x2="666.7" y2="790.67" stroke="#9e9e9e" stroke-width="4.2" stroke-linecap="round" stroke-dasharray="9.8 9.55"/>
<circle cx="457.2" cy="749.0" r="4.5" fill="#000"/>
<circle cx="457.2" cy="754.5" r="4.5" fill="#000"/>
<circle cx="484.0" cy="754.5" r="4.5" fill="#000"/>
<circle cx="493.8" cy="744.6" r="4.5" fill="#000"/>
<circle cx="529.3" cy="749.7" r="4.5" fill="#000"/>
<circle cx="459.3" cy="769.7" r="4.5" fill="#000"/>
<circle cx="444.6" cy="785.1" r="4.5" fill="#000"/>
<circle cx="460.7" cy="780.0" r="4.5" fill="#000"/>
<circle cx="476.2" cy="780.2" r="4.5" fill="#000"/>
<circle cx="510.8" cy="780.0" r="4.5" fill="#000"/>
<circle cx="517.0" cy="785.1" r="4.5" fill="#000"/>
<circle cx="483.3" cy="791.0" r="4.5" fill="#000"/>
<circle cx="456.5" cy="805.4" r="4.5" fill="#000"/>
<circle cx="512.5" cy="810.9" r="4.5" fill="#000"/>
<circle cx="500.9" cy="815.8" r="4.5" fill="#000"/>
<circle cx="467.3" cy="820.7" r="4.5" fill="#000"/>
<circle cx="575.3" cy="744.8" r="4.5" fill="#000"/>
<circle cx="578.1" cy="764.5" r="4.5" fill="#000"/>
<circle cx="568.5" cy="780.0" r="4.5" fill="#000"/>
<circle cx="606.2" cy="780.0" r="4.5" fill="#000"/>
<circle cx="596.6" cy="790.3" r="4.5" fill="#000"/>
<circle cx="591.5" cy="795.5" r="4.5" fill="#000"/>
<circle cx="591.0" cy="805.5" r="4.5" fill="#000"/>
<circle cx="616.8" cy="800.6" r="4.5" fill="#000"/>
<circle cx="627.8" cy="800.7" r="4.5" fill="#000"/>
<circle cx="627.2" cy="811.0" r="4.5" fill="#000"/>
<circle cx="578.9" cy="815.8" r="4.5" fill="#000"/>
<circle cx="551.3" cy="820.7" r="4.5" fill="#000"/>
<circle cx="560.2" cy="820.7" r="4.5" fill="#000"/>
<circle cx="611.0" cy="831.3" r="4.5" fill="#000"/>
<circle cx="628.3" cy="836.1" r="4.5" fill="#000"/>
<circle cx="573.0" cy="851.5" r="4.5" fill="#000"/>
<circle cx="610.4" cy="851.5" r="4.5" fill="#000"/>
<circle cx="691.2" cy="811.1" r="4.5" fill="#000"/>
<circle cx="637.9" cy="826.4" r="4.5" fill="#000"/>
<circle cx="659.1" cy="841.5" r="4.5" fill="#000"/>
<line x1="446.07" y1="772.76" x2="690.72" y2="827.08" stroke="#000" stroke-width="2.4" stroke-linecap="round"/>
</g>
</svg></body></html>
